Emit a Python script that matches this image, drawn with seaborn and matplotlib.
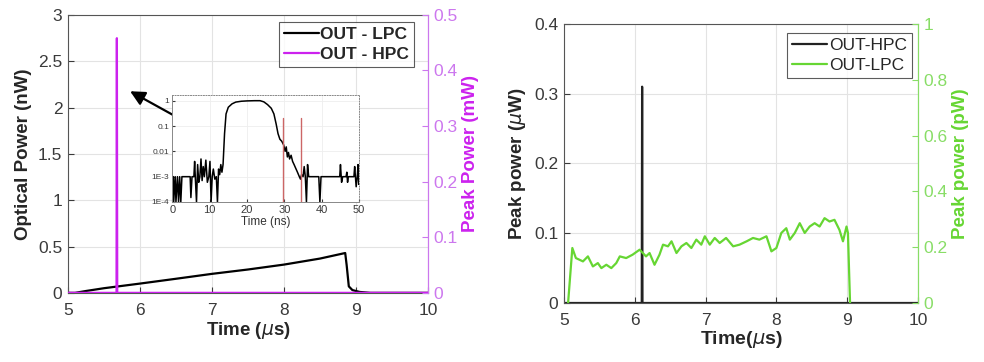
import matplotlib
matplotlib.use("Agg")
import matplotlib.pyplot as plt
import numpy as np
import pandas as pd
import seaborn as sns

# left panel: long pulse (LPC) in nW, short spike (HPC) in mW
lpc_time_us = [5.0, 5.1, 5.25, 5.5, 6.0, 6.5, 7.0, 7.5, 8.0, 8.5, 8.85, 8.87, 8.9, 8.95, 9.05, 9.2, 10.0]
lpc_power_nw = [0.0, 0.0, 0.02, 0.05, 0.10, 0.152, 0.205, 0.252, 0.305, 0.37, 0.43, 0.30, 0.07, 0.03, 0.01, 0.0, 0.0]
hpc_time_us = [5.0, 5.675, 5.68, 5.685, 10.0]
hpc_power_mw = [0.0, 0.0, 0.458, 0.0, 0.0]

# inset: log-scale pulse shape
inset_t_ns = [0, 0.3, 0.4, 0.8, 1.0, 1.4, 1.7, 2.0, 2.3, 2.6, 4.8, 5.0, 5.3, 5.8, 6.0, 6.2,
              6.5, 6.8, 7.1, 7.4, 7.7, 8.0, 8.3, 8.6, 9.0, 9.4, 9.8, 10.1, 10.4, 10.7, 11.0,
              11.4, 11.8, 12.1, 12.4, 12.7, 13.0, 13.3, 13.6, 14.0, 14.4, 15.0, 16.0, 17.0,
              18.5, 20.0, 22.0, 23.5, 24.5, 25.5, 26.5, 27.2, 27.8, 28.3, 28.8, 29.3, 29.8,
              30.2, 30.5, 30.8, 31.1, 31.4, 31.8, 32.2, 32.6, 33.0, 33.5, 34.0, 34.3, 34.6,
              35.0, 35.3, 35.6, 35.9, 36.2, 36.5, 39.2, 39.5, 39.8, 44.8, 45.0, 45.3, 45.6,
              46.5, 46.7, 46.9, 47.1, 48.6, 48.8, 49.2, 49.5, 49.7, 49.9, 50.0]
inset_power = [1e-3, 1e-3, 1e-4, 1e-3, 1e-4, 1e-3, 1e-4, 1e-3, 1e-4, 1e-3, 1e-3, 1.5e-4,
               1e-3, 1e-3, 4e-3, 8e-4, 1e-4, 3e-3, 6e-4, 1e-3, 5e-3, 7e-4, 2.5e-3, 1e-3,
               4.5e-3, 6e-4, 1e-3, 4e-3, 1e-4, 1e-3, 2e-3, 8e-4, 1e-3, 1e-4, 2e-3, 1.2e-3,
               3e-3, 1.5e-3, 3e-3, 0.05, 0.3, 0.55, 0.75, 0.88, 0.95, 0.98, 1.0, 1.0, 0.9,
               0.7, 0.5, 0.3, 0.12, 0.05, 0.03, 0.025, 0.018, 0.01, 0.015, 0.006, 0.009,
               0.005, 0.007, 0.004, 0.003, 0.0022, 0.0015, 0.001, 0.0008, 0.0012, 0.001,
               0.0025, 0.001, 0.0001, 0.003, 0.001, 0.001, 0.0001, 0.001, 0.001, 0.003,
               0.0006, 0.001, 0.001, 0.0015, 0.0006, 0.001, 0.001, 0.0025, 0.0004, 0.001,
               0.003, 0.0005, 0.001]
inset_markers_ns = [29.5, 34.5]
inset_marker_top = 0.2

# right panel: HPC spike in uW, LPC in pW
hpc2_time_us = [5.0, 6.1, 6.105, 6.11, 10.0]
hpc2_power_uw = [0.0, 0.0, 0.31, 0.0, 0.0]
lpc2_time_us = [5.06, 5.12, 5.17, 5.27, 5.34, 5.41, 5.48, 5.53, 5.6, 5.67, 5.74, 5.79, 5.88,
                5.97, 6.07, 6.16, 6.21, 6.28, 6.35, 6.4, 6.47, 6.52, 6.59, 6.66, 6.73, 6.8,
                6.87, 6.94, 6.99, 7.06, 7.13, 7.2, 7.29, 7.39, 7.48, 7.58, 7.67, 7.76, 7.86,
                7.93, 8.0, 8.07, 8.14, 8.19, 8.26, 8.33, 8.4, 8.47, 8.54, 8.61, 8.68, 8.75,
                8.82, 8.89, 8.94, 8.99, 9.01, 9.04]
lpc2_power_pw = [0.0, 0.197, 0.161, 0.149, 0.167, 0.131, 0.143, 0.125, 0.137, 0.125, 0.143,
                 0.167, 0.161, 0.173, 0.191, 0.167, 0.179, 0.137, 0.173, 0.209, 0.203, 0.221,
                 0.179, 0.203, 0.215, 0.197, 0.227, 0.209, 0.239, 0.209, 0.233, 0.215, 0.233,
                 0.203, 0.209, 0.221, 0.233, 0.227, 0.239, 0.185, 0.197, 0.251, 0.268, 0.227,
                 0.251, 0.286, 0.251, 0.274, 0.286, 0.274, 0.304, 0.292, 0.298, 0.262, 0.221,
                 0.274, 0.251, 0.0]

MAGENTA = "#cc22ee"
MAGENTA_TICK = "#cc77ee"
GREEN = "#66d633"
GREEN_TICK = "#88dd66"
TICK_GRAY = "#3a3a3a"
TICK_FS = 12.5
LABEL_FS = 13.5

sns.set_style("ticks")
plt.rcParams["font.family"] = ["Liberation Sans", "DejaVu Sans"]
plt.rcParams["mathtext.fontset"] = "dejavusans"


def style_axes(ax, right_color):
    ax.grid(True, color="#e3e3e3", linewidth=0.8)
    ax.tick_params(direction="in", labelsize=TICK_FS, colors=TICK_GRAY, length=4)
    ax.tick_params(axis="x", pad=7)
    ax.tick_params(axis="y", pad=4)
    for side in ["left", "bottom", "top"]:
        ax.spines[side].set_color("#555555")
    ax.spines["right"].set_color(right_color)


def style_twin(ax, tick_color):
    ax.tick_params(direction="in", labelsize=TICK_FS, colors=tick_color, length=4, pad=4)
    for side in ["left", "bottom", "top"]:
        ax.spines[side].set_visible(False)
    ax.spines["right"].set_color(tick_color)


fig = plt.figure(figsize=(9.84, 3.62), dpi=100)

# ---- left panel
ax1 = fig.add_axes([0.069, 0.191, 0.366, 0.768])
sns.lineplot(x=lpc_time_us, y=lpc_power_nw, color="black", linewidth=1.6,
             sort=False, estimator=None, ax=ax1, label="OUT - LPC")
ax1.set_xlim(5, 10)
ax1.set_ylim(0, 3)
ax1.set_xticks([5, 6, 7, 8, 9, 10])
ax1.set_yticks([0, 0.5, 1, 1.5, 2, 2.5, 3])
ax1.set_yticklabels(["0", "0.5", "1", "1.5", "2", "2.5", "3"])
ax1.set_xlabel("Time ($\\mu$s)", fontsize=LABEL_FS, fontweight="bold", labelpad=2)
ax1.set_ylabel("Optical Power (nW)", fontsize=LABEL_FS, fontweight="bold", labelpad=4)
style_axes(ax1, MAGENTA_TICK)

ax1r = ax1.twinx()
sns.lineplot(x=hpc_time_us, y=hpc_power_mw, color=MAGENTA, linewidth=1.6,
             sort=False, estimator=None, ax=ax1r, label="OUT - HPC")
ax1r.set_ylim(0, 0.5)
ax1r.set_yticks([0, 0.1, 0.2, 0.3, 0.4, 0.5])
ax1r.set_yticklabels(["0", "0.1", "0.2", "0.3", "0.4", "0.5"])
ax1r.set_ylabel("Peak Power (mW)", fontsize=LABEL_FS, fontweight="bold", color=MAGENTA, labelpad=3)
style_twin(ax1r, MAGENTA_TICK)

h1, l1 = ax1.get_legend_handles_labels()
h2, l2 = ax1r.get_legend_handles_labels()
ax1.get_legend().remove()
leg = ax1r.legend(h1 + h2, l1 + l2, loc="upper right", bbox_to_anchor=(0.962, 0.975),
                  frameon=True, fancybox=False, edgecolor="#333333", handlelength=2.0,
                  handletextpad=0.1, borderpad=0.3, labelspacing=0.25, borderaxespad=0,
                  prop={"weight": "bold", "size": 12.5})
leg.get_frame().set_linewidth(0.8)

ax1.annotate("", xy=(5.83, 2.19), xytext=(7.04, 1.67),
             arrowprops=dict(arrowstyle="-|>", color="black", lw=1.6, mutation_scale=22))

# ---- inset
axi = fig.add_axes([0.175, 0.442, 0.190, 0.296])
sns.lineplot(x=inset_t_ns, y=inset_power, color="black", linewidth=1.1,
             sort=False, estimator=None, ax=axi)
for t in inset_markers_ns:
    axi.plot([t, t], [1e-4, inset_marker_top], color="#cc6666", linewidth=1.0)
axi.set_yscale("log")
axi.set_xlim(0, 50)
axi.set_ylim(1e-4, 1.7)
axi.set_xticks([0, 10, 20, 30, 40, 50])
axi.set_yticks([1e-4, 1e-3, 0.01, 0.1, 1])
axi.set_yticklabels(["1E-4", "1E-3", "0.01", "0.1", "1"])
axi.minorticks_off()
axi.tick_params(direction="in", labelsize=6, colors=TICK_GRAY, length=2, pad=2)
axi.tick_params(axis="x", labelsize=8)
axi.set_xlabel("Time (ns)", fontsize=8.5, labelpad=1, color="#333333")
axi.grid(True, color="#eeeeee", linewidth=0.6)
for side in axi.spines:
    axi.spines[side].set_color("#888888")
    axi.spines[side].set_linewidth(0.7)
axi.spines["top"].set_linestyle(":")
axi.spines["right"].set_linestyle(":")

# ---- right panel
ax2 = fig.add_axes([0.573, 0.163, 0.360, 0.771])
sns.lineplot(x=hpc2_time_us, y=hpc2_power_uw, color="#222222", linewidth=1.6,
             sort=False, estimator=None, ax=ax2, label="OUT-HPC")
ax2.set_xlim(5, 10)
ax2.set_ylim(0, 0.4)
ax2.set_xticks([5, 6, 7, 8, 9, 10])
ax2.set_yticks([0, 0.1, 0.2, 0.3, 0.4])
ax2.set_yticklabels(["0", "0.1", "0.2", "0.3", "0.4"])
ax2.set_xlabel("Time($\\mu$s)", fontsize=14, fontweight="bold", labelpad=1)
ax2.set_ylabel("Peak power ($\\mu$W)", fontsize=LABEL_FS, fontweight="bold", labelpad=4)
style_axes(ax2, GREEN_TICK)

ax2r = ax2.twinx()
sns.lineplot(x=lpc2_time_us, y=lpc2_power_pw, color=GREEN, linewidth=1.6,
             sort=False, estimator=None, ax=ax2r, label="OUT-LPC")
ax2r.set_ylim(0, 1)
ax2r.set_yticks([0, 0.2, 0.4, 0.6, 0.8, 1])
ax2r.set_yticklabels(["0", "0.2", "0.4", "0.6", "0.8", "1"])
ax2r.set_ylabel("Peak power (pW)", fontsize=LABEL_FS, fontweight="bold", color=GREEN, labelpad=3)
style_twin(ax2r, GREEN_TICK)

h1, l1 = ax2.get_legend_handles_labels()
h2, l2 = ax2r.get_legend_handles_labels()
ax2.get_legend().remove()
leg2 = ax2r.legend(h1 + h2, l1 + l2, loc="upper right", bbox_to_anchor=(0.983, 0.968),
                   frameon=True, fancybox=False, edgecolor="#333333", handlelength=2.0,
                   handletextpad=0.1, borderpad=0.3, labelspacing=0.25, borderaxespad=0,
                   fontsize=12.5)
leg2.get_frame().set_linewidth(0.8)

fig.savefig("out.png", dpi=100)
